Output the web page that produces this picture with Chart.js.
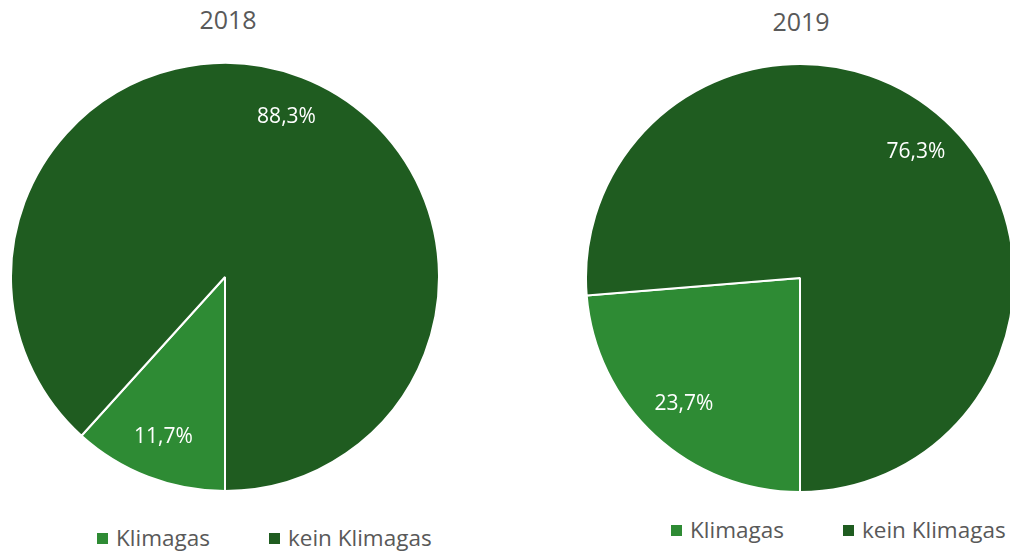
<!DOCTYPE html>
<html>
<head>
<meta charset="utf-8">
<script src="https://cdn.jsdelivr.net/npm/chart.js@4/dist/chart.umd.min.js"></script>
<style>
  html, body { margin: 0; padding: 0; width: 1010px; height: 556px; overflow: hidden; background: #fff; font-family: "Open Sans", "Noto Sans", sans-serif; }
  .wrap { position: absolute; width: 430px; height: 430px; }
  .title { position: absolute; font-size: 25px; color: #595959; text-align: center; width: 200px; line-height: 1; }
  .legend { position: absolute; display: flex; align-items: center; font-size: 22.5px; color: #595959; line-height: 1; white-space: nowrap; }
  .legend .item { display: flex; align-items: center; }
  .legend .sw { width: 11px; height: 11px; display: inline-block; margin-right: 8px; }
</style>
</head>
<body>
<div class="title" id="t1" style="left:128px; top:7px;"></div>
<div class="title" id="t2" style="left:701px; top:9px;"></div>
<div class="wrap" style="left:10px; top:62px;"><canvas id="c1" width="430" height="430"></canvas></div>
<div class="wrap" style="left:585px; top:63px;"><canvas id="c2" width="430" height="430"></canvas></div>
<div class="legend" id="l1" style="left:97px; top:527px;"></div>
<div class="legend" id="l2" style="left:671px; top:519px;"></div>
<script>
const categories = ["Klimagas", "kein Klimagas"];
const years = ["2018", "2019"];
const values2018 = [11.7, 88.3];
const values2019 = [23.7, 76.3];
const colors = ["#2e8b34", "#1f5c20"];

const labelPlugin = {
  id: 'sliceLabels',
  afterDatasetsDraw(chart) {
    const ctx = chart.ctx;
    const meta = chart.getDatasetMeta(0);
    const data = chart.data.datasets[0].data;
    ctx.save();
    ctx.fillStyle = '#ffffff';
    ctx.font = '21px "Open Sans", "Noto Sans", sans-serif';
    ctx.textAlign = 'center';
    ctx.textBaseline = 'middle';
    meta.data.forEach((arc, i) => {
      const p = arc.getProps(['x', 'y', 'startAngle', 'endAngle', 'outerRadius'], true);
      const mid = (p.startAngle + p.endAngle) / 2;
      const r = p.outerRadius * 0.8;
      const txt = data[i].toFixed(1).replace('.', ',') + '%';
      ctx.fillText(txt, p.x + Math.cos(mid) * r, p.y + Math.sin(mid) * r);
    });
    ctx.restore();
  }
};

function makePie(id, values) {
  return new Chart(document.getElementById(id), {
    type: 'pie',
    data: {
      labels: categories,
      datasets: [{ data: values, backgroundColor: colors, borderColor: '#ffffff', borderWidth: 2 }]
    },
    options: {
      responsive: false,
      animation: false,
      rotation: 180,
      layout: { padding: 0 },
      plugins: { legend: { display: false }, title: { display: false }, tooltip: { enabled: false } }
    },
    plugins: [labelPlugin]
  });
}

function makeLegend(id) {
  const el = document.getElementById(id);
  categories.forEach((c, i) => {
    const item = document.createElement('span');
    item.className = 'item';
    if (i > 0) item.style.marginLeft = '59px';
    const sw = document.createElement('span');
    sw.className = 'sw';
    sw.style.background = colors[i];
    item.appendChild(sw);
    item.appendChild(document.createTextNode(c));
    el.appendChild(item);
  });
}

document.getElementById('t1').textContent = years[0];
document.getElementById('t2').textContent = years[1];
makePie('c1', values2018);
makePie('c2', values2019);
makeLegend('l1');
makeLegend('l2');
</script>
</body>
</html>
